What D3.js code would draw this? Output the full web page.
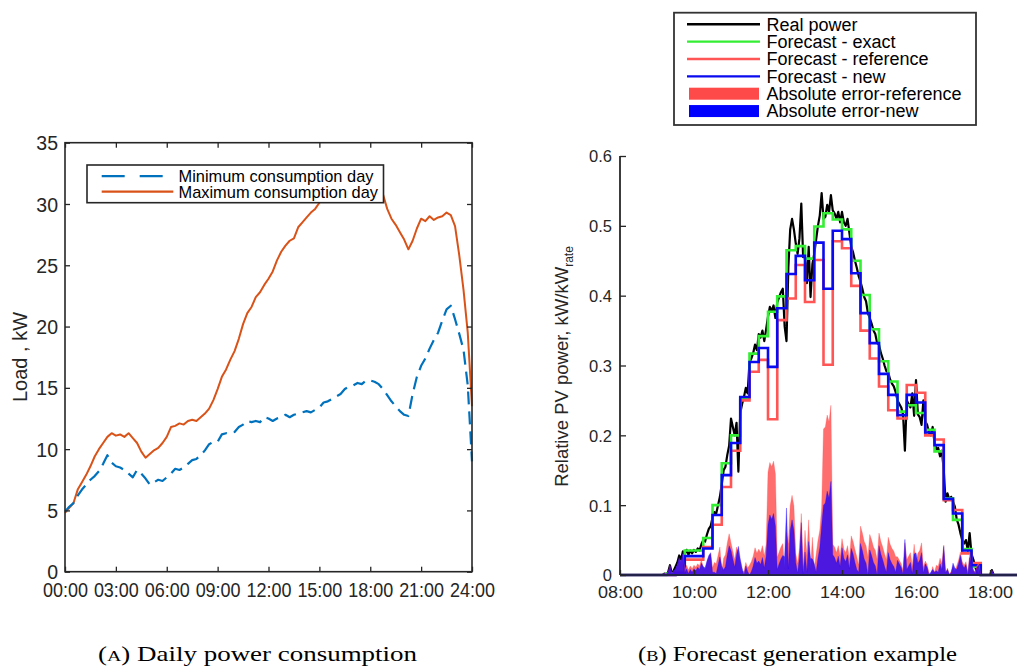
<!DOCTYPE html>
<html>
<head>
<meta charset="utf-8">
<script src="https://cdn.jsdelivr.net/npm/d3@7"></script>
<style>
  body { margin: 0; background: #ffffff; }
  svg { display: block; font-family: Arial, "Liberation Sans", Helvetica, sans-serif; }
</style>
</head>
<body>
<svg id="chart" width="1017" height="668"></svg>
<script>
// ================= Panel A: daily power consumption =================
const loadSampleMinutes = 15;              // one value every 15 min, 00:00 .. 24:00
const minDayLoad = [
  4.9, 5.3, 5.6, 6.2, 6.7, 7.1, 7.5, 7.8, 8.2, 8.8, 9.5, 8.9, 8.6, 8.5, 8.3, 8.0,
  7.7, 8.3, 8.0, 7.6, 7.1, 7.3, 7.5, 7.4, 7.7, 8.0, 8.4, 8.3, 8.5, 8.8, 9.1, 9.2,
  9.5, 9.9, 10.4, 10.6, 10.6, 11.2, 11.3, 11.3, 11.4, 11.8, 12.0, 12.3, 12.2, 12.3, 12.2, 12.6,
  12.5, 12.3, 12.5, 12.6, 12.8, 12.6, 12.8, 12.9, 13.0, 13.1, 13.0, 13.2, 13.4, 13.8, 13.9, 14.1,
  14.3, 14.5, 14.9, 15.1, 15.2, 15.4, 15.3, 15.6, 15.6, 15.5, 15.3, 14.9, 14.4, 13.9, 13.5, 13.1,
  12.8, 12.7, 14.5, 15.9, 16.8, 17.4, 18.2, 18.9, 19.5, 20.5, 21.4, 21.7, 20.6, 19.4, 18.1, 15.2,
  9.0
];
const maxDayLoad = [
  4.8, 5.2, 5.6, 6.7, 7.3, 7.9, 8.6, 9.4, 10.0, 10.5, 11.0, 11.3, 11.1, 11.2, 11.0, 11.3,
  10.9, 10.5, 9.8, 9.3, 9.6, 9.9, 10.1, 10.5, 11.0, 11.8, 11.9, 12.1, 12.0, 12.3, 12.4, 12.3,
  12.6, 12.9, 13.3, 14.0, 14.9, 15.9, 16.5, 17.3, 18.0, 19.0, 20.2, 21.1, 21.6, 22.4, 22.8, 23.4,
  23.9, 24.5, 25.4, 26.1, 26.6, 27.0, 27.2, 28.1, 28.5, 28.9, 29.3, 29.6, 30.1, 30.7, 31.1, 31.4,
  31.7, 31.9, 32.1, 32.3, 32.4, 32.5, 32.4, 32.3, 32.1, 31.8, 31.3, 30.8, 29.6, 28.8, 28.3, 27.7,
  27.1, 26.3, 27.0, 28.0, 28.8, 28.6, 29.0, 28.7, 28.9, 29.0, 29.3, 29.1, 28.2, 25.8, 23.0, 19.5,
  13.5
];
const loadXTicks = [0, 3, 6, 9, 12, 15, 18, 21, 24];
const loadXTickLabels = ["00:00", "03:00", "06:00", "09:00", "12:00", "15:00", "18:00", "21:00", "24:00"];
const loadYTicks = [0, 5, 10, 15, 20, 25, 30, 35];
const loadSeriesNames = ["Minimum consumption day", "Maximum consumption day"];
const loadYLabel = "Load , kW";
const captionA = ["(", "A", ") Daily power consumption"];

// ================= Panel B: forecast generation example =================
const forecastTimes = [
  "09:15", "09:30", "09:45", "10:00", "10:15", "10:30", "10:45", "11:00", "11:15", "11:30",
  "11:45", "12:00", "12:15", "12:30", "12:45", "13:00", "13:15", "13:30", "13:45", "14:00",
  "14:15", "14:30", "14:45", "15:00", "15:15", "15:30", "15:45", "16:00", "16:15", "16:30",
  "16:45", "17:00", "17:15", "17:30", "17:45"
];
const forecastExact = [
  0.002, 0.005, 0.035, 0.035, 0.053, 0.100, 0.160, 0.200, 0.253, 0.317,
  0.342, 0.377, 0.399, 0.465, 0.471, 0.453, 0.499, 0.518, 0.509, 0.495,
  0.450, 0.401, 0.352, 0.306, 0.277, 0.234, 0.243, 0.232, 0.208, 0.177,
  0.110, 0.079, 0.037, 0.012, 0
];
const forecastReference = [
  0, 0.004, 0.022, 0.022, 0.040, 0.072, 0.126, 0.178, 0.250, 0.291,
  0.308, 0.223, 0.365, 0.396, 0.444, 0.391, 0.451, 0.301, 0.478, 0.468,
  0.414, 0.350, 0.310, 0.270, 0.236, 0.224, 0.272, 0.261, 0.200, 0.194,
  0.107, 0.093, 0.031, 0.017, 0
];
const forecastNew = [
  0, 0.003, 0.027, 0.027, 0.038, 0.086, 0.143, 0.189, 0.255, 0.305,
  0.325, 0.298, 0.382, 0.431, 0.457, 0.422, 0.476, 0.410, 0.493, 0.481,
  0.432, 0.375, 0.332, 0.288, 0.258, 0.229, 0.258, 0.247, 0.204, 0.186,
  0.109, 0.088, 0.035, 0.014, 0
];
const realPowerStart = "09:00";
const realPowerSampleMinutes = 3;
const realPower = [
  // 09:00 - 09:57
  0, 0, 0, 0, 0.002, 0.001, 0.004, 0.014, 0.002, 0.006, 0.012, 0.018, 0.028, 0.022, 0.034, 0.030, 0.036, 0.029, 0.035, 0.031,
  // 10:00 - 10:57
  0.036, 0.033, 0.038, 0.035, 0.044, 0.050, 0.048, 0.058, 0.066, 0.070, 0.082, 0.090, 0.088, 0.100, 0.112, 0.130, 0.150, 0.155, 0.172, 0.185,
  // 11:00 - 11:57
  0.224, 0.212, 0.200, 0.218, 0.148, 0.232, 0.245, 0.255, 0.268, 0.260, 0.305, 0.310, 0.318, 0.330, 0.322, 0.345, 0.340, 0.350, 0.335, 0.352,
  // 12:00 - 12:57
  0.370, 0.384, 0.378, 0.386, 0.368, 0.390, 0.398, 0.405, 0.410, 0.356, 0.335, 0.440, 0.495, 0.510, 0.495, 0.475, 0.460, 0.482, 0.532, 0.455,
  // 13:00 - 13:57
  0.455, 0.418, 0.470, 0.398, 0.445, 0.460, 0.480, 0.500, 0.515, 0.547, 0.510, 0.513, 0.530, 0.520, 0.544, 0.522, 0.518, 0.510, 0.520, 0.505,
  // 14:00 - 14:57
  0.520, 0.505, 0.500, 0.510, 0.490, 0.470, 0.462, 0.450, 0.440, 0.428, 0.420, 0.410, 0.398, 0.392, 0.375, 0.368, 0.360, 0.350, 0.345, 0.332,
  // 15:00 - 15:57
  0.330, 0.318, 0.310, 0.300, 0.292, 0.290, 0.280, 0.274, 0.270, 0.262, 0.250, 0.245, 0.240, 0.230, 0.178, 0.250, 0.245, 0.240, 0.260, 0.228,
  // 16:00 - 16:57
  0.279, 0.230, 0.226, 0.215, 0.250, 0.220, 0.215, 0.204, 0.200, 0.212, 0.190, 0.180, 0.182, 0.170, 0.178, 0.150, 0.105, 0.117, 0.108, 0.112,
  // 17:00 - 17:57
  0.105, 0.098, 0.080, 0.072, 0.060, 0.050, 0.045, 0.050, 0.035, 0.060, 0.030, 0.022, 0.012, 0.003, 0, 0, 0, 0, 0, 0,
  // 18:00 - 18:06
  0, 0.007, 0
];
const pvXTicks = ["08:00", "10:00", "12:00", "14:00", "16:00", "18:00"];
const pvYTicks = [0, 0.1, 0.2, 0.3, 0.4, 0.5, 0.6];
const pvYTickLabels = ["0", "0.1", "0.2", "0.3", "0.4", "0.5", "0.6"];
const pvSeriesNames = ["Real power", "Forecast - exact", "Forecast - reference", "Forecast - new",
                       "Absolute error-reference", "Absolute error-new"];
const pvYLabelMain = "Relative PV power, kW/kW";
const pvYLabelSub = "rate";
const captionB = ["(", "B", ") Forecast generation example"];

// ================= Drawing =================
const svg = d3.select("#chart");
const AX = "#262626";
const toHours = s => { const [h, m] = s.split(":").map(Number); return h + m / 60; };

// ---------- Panel A ----------
const xA = d3.scaleLinear().domain([0, 24]).range([65, 472]);
const yA = d3.scaleLinear().domain([0, 35]).range([571.7, 142.7]);
const gA = svg.append("g");

const lineA = d3.line()
  .x((d, i) => xA(i * loadSampleMinutes / 60))
  .y(d => yA(d));

gA.append("path").datum(maxDayLoad).attr("d", lineA)
  .attr("fill", "none").attr("stroke", "#D95319").attr("stroke-width", 2).attr("stroke-linejoin", "round");
gA.append("path").datum(minDayLoad).attr("d", lineA)
  .attr("fill", "none").attr("stroke", "#0072BD").attr("stroke-width", 2.2)
  .attr("stroke-dasharray", "13,7").attr("stroke-linejoin", "round");

// frame
gA.append("rect").attr("x", 65).attr("y", 142.7).attr("width", 407).attr("height", 429)
  .attr("fill", "none").attr("stroke", AX).attr("stroke-width", 1.6);

function styleAxis(g) {
  g.select(".domain").remove();
  g.attr("font-family", null).attr("font-size", null);
  g.selectAll(".tick line").attr("stroke", AX).attr("stroke-width", 1.3);
  g.selectAll("text").attr("fill", AX);
}

const gxA = gA.append("g").attr("transform", "translate(0,571.7)")
  .call(d3.axisBottom(xA).tickValues(loadXTicks).tickFormat((d, i) => loadXTickLabels[i]).tickSize(-5).tickSizeOuter(0));
styleAxis(gxA);
gxA.selectAll("text").attr("y", 25).attr("dy", null).attr("font-size", 20)
  .attr("textLength", 45).attr("lengthAdjust", "spacingAndGlyphs");

const gxA2 = gA.append("g").attr("transform", "translate(0,142.7)")
  .call(d3.axisTop(xA).tickValues(loadXTicks).tickFormat("").tickSize(-5).tickSizeOuter(0));
styleAxis(gxA2);

const gyA = gA.append("g").attr("transform", "translate(65,0)")
  .call(d3.axisLeft(yA).tickValues(loadYTicks).tickSize(-5).tickPadding(7).tickSizeOuter(0));
styleAxis(gyA);
gyA.selectAll("text").attr("font-size", 19.5).attr("dy", "0.36em");

const gyA2 = gA.append("g").attr("transform", "translate(472,0)")
  .call(d3.axisRight(yA).tickValues(loadYTicks).tickFormat("").tickSize(-5).tickSizeOuter(0));
styleAxis(gyA2);

gA.append("text").attr("transform", "translate(27,357) rotate(-90)")
  .attr("text-anchor", "middle").attr("font-size", 20).attr("fill", AX).text(loadYLabel);

// legend A
const legA = gA.append("g");
legA.append("rect").attr("x", 87).attr("y", 165).attr("width", 296.5).attr("height", 37.7)
  .attr("fill", "#fff").attr("stroke", AX).attr("stroke-width", 1.6);
const legARows = [176.2, 191.7];
legA.append("line").attr("x1", 101.7).attr("x2", 173.3).attr("y1", legARows[0]).attr("y2", legARows[0])
  .attr("stroke", "#0072BD").attr("stroke-width", 2.2).attr("stroke-dasharray", "23,15");
legA.append("line").attr("x1", 101.7).attr("x2", 173.3).attr("y1", legARows[1]).attr("y2", legARows[1])
  .attr("stroke", "#D95319").attr("stroke-width", 2.2);
loadSeriesNames.forEach((n, i) => {
  legA.append("text").attr("x", 178.5).attr("y", legARows[i] + 5.8)
    .attr("font-size", 16.4).attr("fill", "#000").text(n);
});

// caption A
const capA = svg.append("text").attr("x", 98).attr("y", 661)
  .attr("font-family", "'Liberation Serif', 'DejaVu Serif', serif").attr("font-size", 21)
  .attr("fill", "#000").attr("textLength", 319).attr("lengthAdjust", "spacingAndGlyphs");
capA.append("tspan").text(captionA[0]);
capA.append("tspan").attr("font-size", 15.5).text(captionA[1]);
capA.append("tspan").text(captionA[2]);

// ---------- Panel B ----------
const xB = d3.scaleLinear().domain([8, 19]).range([620, 1027]);
const yB = d3.scaleLinear().domain([0, 0.6]).range([575, 156]);
const gB = svg.append("g");

const stepHours = forecastTimes.map(toHours);
const stepSeries = vals => [{ t: 8, v: 0 }]
  .concat(stepHours.map((t, i) => ({ t, v: vals[i] })))
  .concat([{ t: 19, v: 0 }]);
const rpStart = toHours(realPowerStart);
const realPts = [{ t: 8, v: 0 }]
  .concat(realPower.map((v, i) => ({ t: rpStart + i * realPowerSampleMinutes / 60, v })))
  .concat([{ t: 19, v: 0 }]);
const stepAt = (vals, t) => {
  let v = 0;
  stepHours.forEach((h, i) => { if (h <= t + 1e-9) v = vals[i]; });
  return v;
};
const errPts = vals => realPts.map(p => ({ t: p.t, e: Math.abs(p.v - stepAt(vals, p.t)) }));

const lineB = d3.line().x(d => xB(d.t)).y(d => yB(d.v));
const stepLine = d3.line().curve(d3.curveStepAfter).x(d => xB(d.t)).y(d => yB(d.v));
const areaB = d3.area().x(d => xB(d.t)).y0(yB(0)).y1(d => yB(d.e));

gB.append("path").datum(realPts).attr("d", lineB)
  .attr("fill", "none").attr("stroke", "#000").attr("stroke-width", 2.2).attr("stroke-linejoin", "round");
gB.append("path").datum(stepSeries(forecastExact)).attr("d", stepLine)
  .attr("fill", "none").attr("stroke", "#33ee33").attr("stroke-width", 2.6);
gB.append("path").datum(stepSeries(forecastReference)).attr("d", stepLine)
  .attr("fill", "none").attr("stroke", "#ff5555").attr("stroke-width", 2.6);
gB.append("path").datum(stepSeries(forecastNew)).attr("d", stepLine)
  .attr("fill", "none").attr("stroke", "#0a0af0").attr("stroke-width", 2.6);
gB.append("path").datum(errPts(forecastReference)).attr("d", areaB)
  .attr("fill", "#ff4a4a").attr("fill-opacity", 0.8).attr("stroke", "#ff4a4a").attr("stroke-opacity", 0.5).attr("stroke-width", 0.6);
gB.append("path").datum(errPts(forecastNew)).attr("d", areaB)
  .attr("fill", "#1a00ff").attr("fill-opacity", 0.78).attr("stroke", "#1a00ff").attr("stroke-opacity", 0.5).attr("stroke-width", 0.6);

// axes B
gB.append("line").attr("x1", 620).attr("x2", 620).attr("y1", 156).attr("y2", 575)
  .attr("stroke", AX).attr("stroke-width", 1.8);
gB.append("line").attr("x1", 620).attr("x2", 1017).attr("y1", 575).attr("y2", 575)
  .attr("stroke", "#22224a").attr("stroke-width", 1.8);

const gyB = gB.append("g").attr("transform", "translate(620,0)")
  .call(d3.axisLeft(yB).tickValues(pvYTicks).tickFormat((d, i) => pvYTickLabels[i]).tickSize(-6).tickPadding(8).tickSizeOuter(0));
styleAxis(gyB);
gyB.selectAll("text").attr("font-size", 16.5).attr("dy", "0.36em");

const gxB = gB.append("g").attr("transform", "translate(0,575)")
  .call(d3.axisBottom(xB).tickValues(pvXTicks.map(toHours)).tickFormat((d, i) => pvXTicks[i]).tickSize(-5).tickSizeOuter(0));
styleAxis(gxB);
gxB.selectAll("text").attr("y", 23.3).attr("dy", null).attr("font-size", 17)
  .attr("textLength", 45).attr("lengthAdjust", "spacingAndGlyphs");

const ylabB = gB.append("text").attr("transform", "translate(568,366.5) rotate(-90)")
  .attr("text-anchor", "middle").attr("font-size", 18.5).attr("fill", AX);
ylabB.append("tspan").text(pvYLabelMain);
ylabB.append("tspan").attr("font-size", 12).attr("dy", 5).text(pvYLabelSub);

// legend B
const legB = svg.append("g");
legB.append("rect").attr("x", 674).attr("y", 12.7).attr("width", 302).attr("height", 112.3)
  .attr("fill", "#fff").attr("stroke", "#333").attr("stroke-width", 1.8);
const legBColors = ["#000", "#33ee33", "#ff5555", "#0a0af0", "#ff4a4a", "#0000ff"];
pvSeriesNames.forEach((n, i) => {
  const yRow = 24.3 + i * 17.35;
  if (i < 4) {
    legB.append("line").attr("x1", 687).attr("x2", 760).attr("y1", yRow).attr("y2", yRow)
      .attr("stroke", legBColors[i]).attr("stroke-width", 2.4);
  } else {
    legB.append("rect").attr("x", 689).attr("y", yRow - 6).attr("width", 70).attr("height", 12)
      .attr("fill", legBColors[i]);
  }
  legB.append("text").attr("x", 766.5).attr("y", yRow + 6.4).attr("font-size", 18)
    .attr("fill", "#000").text(n);
});

// caption B
const capB = svg.append("text").attr("x", 638).attr("y", 661)
  .attr("font-family", "'Liberation Serif', 'DejaVu Serif', serif").attr("font-size", 21)
  .attr("fill", "#000").attr("textLength", 319).attr("lengthAdjust", "spacingAndGlyphs");
capB.append("tspan").text(captionB[0]);
capB.append("tspan").attr("font-size", 15.5).text(captionB[1]);
capB.append("tspan").text(captionB[2]);
</script>
</body>
</html>
